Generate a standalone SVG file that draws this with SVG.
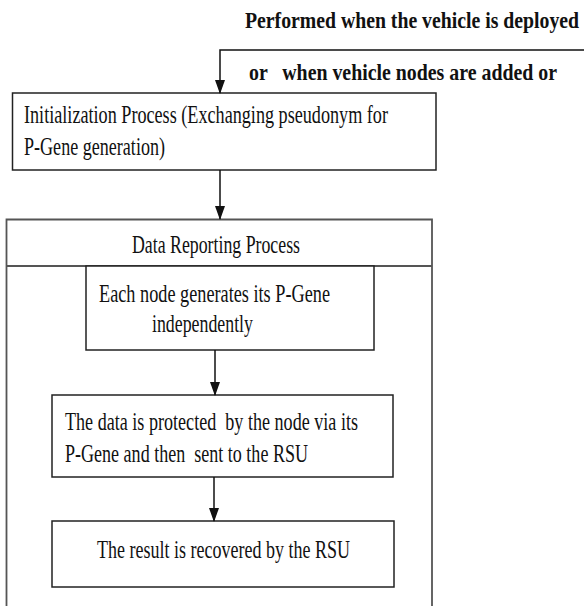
<svg xmlns="http://www.w3.org/2000/svg" width="584" height="606" viewBox="0 0 584 606">
<style>
  text { font-family: 'Liberation Serif', 'DejaVu Serif', serif; font-size: 25px; fill: #111; white-space: pre; }
  .b { font-weight: bold; font-size: 24px; }
  .box { fill: #fff; stroke: #222; stroke-width: 1.5; }
  .outer { fill: none; stroke: #555; stroke-width: 1.8; }
  .conn { fill: none; stroke: #111; stroke-width: 1.5; }
</style>
<defs>
  <marker id="ah" markerUnits="userSpaceOnUse" markerWidth="14" markerHeight="10" refX="13" refY="5" orient="auto" viewBox="0 0 14 10">
    <path d="M0,0 L14,5 L0,10 Z" fill="#111"/>
  </marker>
</defs>

<text class="b" font-family="Liberation Serif, serif" x="245" y="28" textLength="334" lengthAdjust="spacingAndGlyphs">Performed when the vehicle is deployed</text>
<text class="b" font-family="Liberation Serif, serif" x="249" y="80" textLength="308" lengthAdjust="spacingAndGlyphs">or   when vehicle nodes are added or</text>

<g id="outer-process" font-family="Liberation Serif, serif">
  <path class="outer" d="M6.5,606 V219.5 H432 V606"/>
  <line class="outer" x1="6.5" y1="266" x2="432" y2="266"/>
  <text x="132" y="253" textLength="168" lengthAdjust="spacingAndGlyphs">Data Reporting Process</text>
</g>

<g id="init" font-family="Liberation Serif, serif">
  <rect class="box" x="12.5" y="93" width="423.5" height="77"/>
  <text x="24" y="123" textLength="364" lengthAdjust="spacingAndGlyphs">Initialization Process (Exchanging pseudonym for</text>
  <text x="24" y="155" textLength="141" lengthAdjust="spacingAndGlyphs">P-Gene generation)</text>
</g>

<g id="step1" font-family="Liberation Serif, serif">
  <rect class="box" x="86" y="266" width="288" height="84"/>
  <text x="99" y="302" textLength="231" lengthAdjust="spacingAndGlyphs">Each node generates its P-Gene</text>
  <text x="152" y="332" textLength="101" lengthAdjust="spacingAndGlyphs">independently</text>
</g>

<g id="step2" font-family="Liberation Serif, serif">
  <rect class="box" x="52" y="395" width="341" height="82"/>
  <text x="65" y="430" textLength="293" lengthAdjust="spacingAndGlyphs">The data is protected  by the node via its</text>
  <text x="65" y="462" textLength="243" lengthAdjust="spacingAndGlyphs">P-Gene and then  sent to the RSU</text>
</g>

<g id="step3" font-family="Liberation Serif, serif">
  <rect class="box" x="52" y="521" width="342" height="66"/>
  <text x="97" y="558" textLength="253" lengthAdjust="spacingAndGlyphs">The result is recovered by the RSU</text>
</g>

<g id="connectors">
  <path class="conn" d="M584,50 H220 V93" marker-end="url(#ah)"/>
  <path class="conn" d="M220,170 V219" marker-end="url(#ah)"/>
  <path class="conn" d="M215,350 V395" marker-end="url(#ah)"/>
  <path class="conn" d="M214,477 V521" marker-end="url(#ah)"/>
</g>
</svg>
